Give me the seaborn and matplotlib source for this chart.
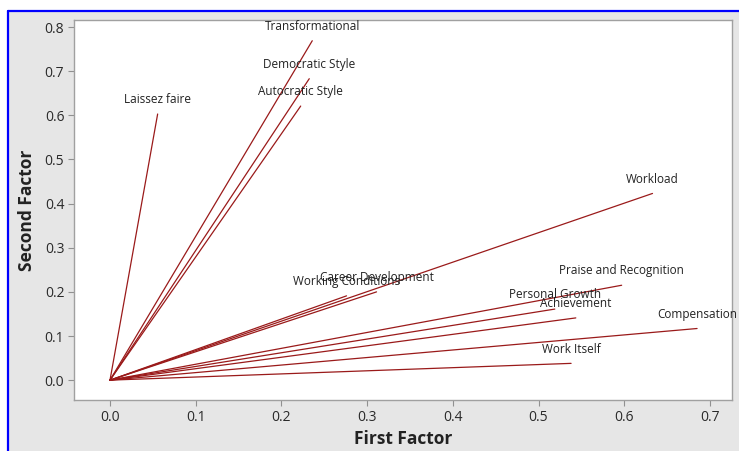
import matplotlib
matplotlib.use("Agg")
import matplotlib.pyplot as plt
from matplotlib.patches import Rectangle
from matplotlib.lines import Line2D
import seaborn as sns
import pandas as pd

# Loadings of each variable on the first two factors
variables = ["Transformational", "Democratic Style", "Autocratic Style", "Laissez faire",
             "Workload", "Career Development", "Working Conditions",
             "Praise and Recognition", "Personal Growth", "Achievement",
             "Compensation", "Work Itself"]
first_factor = [0.236, 0.2325, 0.2225, 0.0556, 0.633, 0.311, 0.276,
                0.597, 0.519, 0.5435, 0.685, 0.538]
second_factor = [0.769, 0.683, 0.621, 0.603, 0.423, 0.200, 0.191,
                 0.215, 0.161, 0.141, 0.117, 0.038]

x_ticks = [0.0, 0.1, 0.2, 0.3, 0.4, 0.5, 0.6, 0.7]
y_ticks = [0.0, 0.1, 0.2, 0.3, 0.4, 0.5, 0.6, 0.7, 0.8]

# Each loading vector runs from the origin to its loading point
rows = []
for name, fx, fy in zip(variables, first_factor, second_factor):
    rows.append({"variable": name, "step": 0, "First Factor": 0.0, "Second Factor": 0.0})
    rows.append({"variable": name, "step": 1, "First Factor": fx, "Second Factor": fy})
segments = pd.DataFrame(rows)

sns.set_theme(style="white")
plt.rcParams["font.family"] = ["Open Sans", "DejaVu Sans"]

line_color = "#9a1a1a"
bg_gray = "#e6e6e6"

fig = plt.figure(figsize=(7.39, 4.51), dpi=100, facecolor="white")

# Gray panel with a blue frame along the top and left
W, H = 739, 451
fig.patches.append(Rectangle((8 / W, 0), 1, (H - 12) / H, transform=fig.transFigure,
                             facecolor=bg_gray, edgecolor="none", zorder=-2))
fig.lines.append(Line2D([7.5 / W, 7.5 / W], [0, (H - 10.5) / H], transform=fig.transFigure,
                        color="#0000ff", linewidth=1.6))
fig.lines.append(Line2D([7.5 / W, 1], [(H - 10.5) / H, (H - 10.5) / H], transform=fig.transFigure,
                        color="#0000ff", linewidth=1.6))

ax = fig.add_axes([74 / W, 51 / H, (731.7 - 74) / W, (400 - 20) / H])
ax.set_facecolor("white")

sns.lineplot(data=segments, x="First Factor", y="Second Factor", units="variable",
             estimator=None, sort=False, color=line_color, linewidth=0.9, ax=ax)

for name, fx, fy in zip(variables, first_factor, second_factor):
    ax.annotate(name, (fx, fy), xytext=(0, 10.3), textcoords="offset points",
                ha="center", va="center", fontsize=8.5, color="#222222")

ax.set_xlim(-0.042, 0.7254)
ax.set_ylim(-0.045, 0.816)
ax.set_xticks(x_ticks)
ax.set_yticks(y_ticks)
ax.set_xticklabels([f"{t:.1f}" for t in x_ticks])
ax.set_yticklabels([f"{t:.1f}" for t in y_ticks])
ax.tick_params(axis="both", direction="out", length=4, width=0.8, color="#909090",
               labelsize=10, labelcolor="#2a2a2a", pad=3, bottom=True, left=True)

for side in ["top", "right", "bottom", "left"]:
    ax.spines[side].set_color("#a0a0a0")
    ax.spines[side].set_linewidth(1.0)

ax.set_xlabel("First Factor", fontsize=12.5, fontweight="bold", color="#222222", labelpad=4)
ax.set_ylabel("Second Factor", fontsize=12.5, fontweight="bold", color="#222222", labelpad=6)

fig.savefig("out.png", dpi=100, facecolor="white")
